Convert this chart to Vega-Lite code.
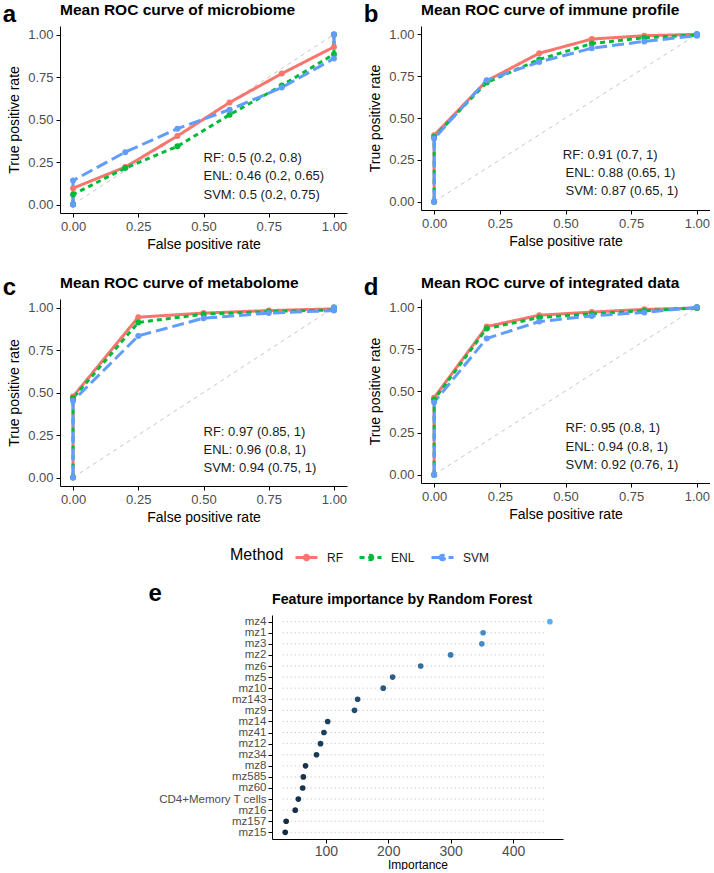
{
  "$schema": "https://vega.github.io/schema/vega-lite/v6.json",
  "padding": {"left": 2, "top": 2, "right": 0, "bottom": 0},
  "background": "white",
  "config": {
    "font": "Liberation Sans",
    "view": {"stroke": null},
    "axis": {"domainColor": "black", "domainWidth": 1, "tickColor": "black", "tickSize": 4, "labelColor": "#4D4D4D", "titleColor": "black", "titleFontWeight": "normal", "grid": false, "labelPadding": 3},
    "title": {"color": "black"},
    "legend": {"orient": "none", "legendX": 170, "legendY": 519, "direction": "horizontal", "titleOrient": "left", "titleFontSize": 16, "titleFontWeight": "normal", "titleColor": "black", "titlePadding": 10, "titleBaseline": "middle", "labelFontSize": 12, "labelColor": "#1A1A1A", "labelOffset": 8, "columnPadding": 10, "gridAlign": "none", "symbolSize": 484, "symbolStrokeWidth": 3}
  },
  "datasets": {
    "chance": [{"fpr": 0, "tpr": 0}, {"fpr": 1, "tpr": 1}],
    "auclabels": [
      {"panel": "a", "label": "RF: 0.5 (0.2, 0.8)", "fpr": 0.5, "tpr": 0.275}, {"panel": "a", "label": "ENL: 0.46 (0.2, 0.65)", "fpr": 0.5, "tpr": 0.165}, {"panel": "a", "label": "SVM: 0.5 (0.2, 0.75)", "fpr": 0.5, "tpr": 0.055},
      {"panel": "b", "label": "RF: 0.91 (0.7, 1)", "fpr": 0.49, "tpr": 0.278}, {"panel": "b", "label": "ENL: 0.88 (0.65, 1)", "fpr": 0.5, "tpr": 0.171}, {"panel": "b", "label": "SVM: 0.87 (0.65, 1)", "fpr": 0.5, "tpr": 0.064},
      {"panel": "c", "label": "RF: 0.97 (0.85, 1)", "fpr": 0.5, "tpr": 0.27}, {"panel": "c", "label": "ENL: 0.96 (0.8, 1)", "fpr": 0.5, "tpr": 0.162}, {"panel": "c", "label": "SVM: 0.94 (0.75, 1)", "fpr": 0.5, "tpr": 0.053},
      {"panel": "d", "label": "RF: 0.95 (0.8, 1)", "fpr": 0.5, "tpr": 0.278}, {"panel": "d", "label": "ENL: 0.94 (0.8, 1)", "fpr": 0.5, "tpr": 0.168}, {"panel": "d", "label": "SVM: 0.92 (0.76, 1)", "fpr": 0.5, "tpr": 0.058}
    ],
    "roc": [
      {"panel": "a", "method": "RF", "fpr": 0, "tpr": 0}, {"panel": "a", "method": "RF", "fpr": 0, "tpr": 0.096}, {"panel": "a", "method": "RF", "fpr": 0.2, "tpr": 0.22}, {"panel": "a", "method": "RF", "fpr": 0.4, "tpr": 0.403}, {"panel": "a", "method": "RF", "fpr": 0.6, "tpr": 0.6}, {"panel": "a", "method": "RF", "fpr": 0.8, "tpr": 0.77}, {"panel": "a", "method": "RF", "fpr": 1, "tpr": 0.927}, {"panel": "a", "method": "RF", "fpr": 1, "tpr": 1},
      {"panel": "a", "method": "ENL", "fpr": 0, "tpr": 0}, {"panel": "a", "method": "ENL", "fpr": 0, "tpr": 0.059}, {"panel": "a", "method": "ENL", "fpr": 0.2, "tpr": 0.214}, {"panel": "a", "method": "ENL", "fpr": 0.4, "tpr": 0.342}, {"panel": "a", "method": "ENL", "fpr": 0.6, "tpr": 0.528}, {"panel": "a", "method": "ENL", "fpr": 0.8, "tpr": 0.7}, {"panel": "a", "method": "ENL", "fpr": 1, "tpr": 0.884}, {"panel": "a", "method": "ENL", "fpr": 1, "tpr": 1},
      {"panel": "a", "method": "SVM", "fpr": 0, "tpr": 0}, {"panel": "a", "method": "SVM", "fpr": 0, "tpr": 0.141}, {"panel": "a", "method": "SVM", "fpr": 0.2, "tpr": 0.308}, {"panel": "a", "method": "SVM", "fpr": 0.4, "tpr": 0.446}, {"panel": "a", "method": "SVM", "fpr": 0.6, "tpr": 0.558}, {"panel": "a", "method": "SVM", "fpr": 0.8, "tpr": 0.688}, {"panel": "a", "method": "SVM", "fpr": 1, "tpr": 0.859}, {"panel": "a", "method": "SVM", "fpr": 1, "tpr": 1},
      {"panel": "b", "method": "RF", "fpr": 0, "tpr": 0}, {"panel": "b", "method": "RF", "fpr": 0, "tpr": 0.397}, {"panel": "b", "method": "RF", "fpr": 0.2, "tpr": 0.722}, {"panel": "b", "method": "RF", "fpr": 0.4, "tpr": 0.887}, {"panel": "b", "method": "RF", "fpr": 0.6, "tpr": 0.972}, {"panel": "b", "method": "RF", "fpr": 0.8, "tpr": 0.992}, {"panel": "b", "method": "RF", "fpr": 1, "tpr": 1},
      {"panel": "b", "method": "ENL", "fpr": 0, "tpr": 0}, {"panel": "b", "method": "ENL", "fpr": 0, "tpr": 0.387}, {"panel": "b", "method": "ENL", "fpr": 0.2, "tpr": 0.712}, {"panel": "b", "method": "ENL", "fpr": 0.4, "tpr": 0.85}, {"panel": "b", "method": "ENL", "fpr": 0.6, "tpr": 0.945}, {"panel": "b", "method": "ENL", "fpr": 0.8, "tpr": 0.98}, {"panel": "b", "method": "ENL", "fpr": 1, "tpr": 0.996}, {"panel": "b", "method": "ENL", "fpr": 1, "tpr": 1},
      {"panel": "b", "method": "SVM", "fpr": 0, "tpr": 0}, {"panel": "b", "method": "SVM", "fpr": 0, "tpr": 0.377}, {"panel": "b", "method": "SVM", "fpr": 0.2, "tpr": 0.726}, {"panel": "b", "method": "SVM", "fpr": 0.4, "tpr": 0.835}, {"panel": "b", "method": "SVM", "fpr": 0.6, "tpr": 0.917}, {"panel": "b", "method": "SVM", "fpr": 0.8, "tpr": 0.958}, {"panel": "b", "method": "SVM", "fpr": 1, "tpr": 0.992}, {"panel": "b", "method": "SVM", "fpr": 1, "tpr": 1},
      {"panel": "c", "method": "RF", "fpr": 0, "tpr": 0}, {"panel": "c", "method": "RF", "fpr": 0, "tpr": 0.476}, {"panel": "c", "method": "RF", "fpr": 0.25, "tpr": 0.943}, {"panel": "c", "method": "RF", "fpr": 0.5, "tpr": 0.967}, {"panel": "c", "method": "RF", "fpr": 0.75, "tpr": 0.982}, {"panel": "c", "method": "RF", "fpr": 1, "tpr": 0.992}, {"panel": "c", "method": "RF", "fpr": 1, "tpr": 1},
      {"panel": "c", "method": "ENL", "fpr": 0, "tpr": 0}, {"panel": "c", "method": "ENL", "fpr": 0, "tpr": 0.467}, {"panel": "c", "method": "ENL", "fpr": 0.25, "tpr": 0.912}, {"panel": "c", "method": "ENL", "fpr": 0.5, "tpr": 0.961}, {"panel": "c", "method": "ENL", "fpr": 0.75, "tpr": 0.976}, {"panel": "c", "method": "ENL", "fpr": 1, "tpr": 0.986}, {"panel": "c", "method": "ENL", "fpr": 1, "tpr": 1},
      {"panel": "c", "method": "SVM", "fpr": 0, "tpr": 0}, {"panel": "c", "method": "SVM", "fpr": 0, "tpr": 0.451}, {"panel": "c", "method": "SVM", "fpr": 0.25, "tpr": 0.833}, {"panel": "c", "method": "SVM", "fpr": 0.5, "tpr": 0.937}, {"panel": "c", "method": "SVM", "fpr": 0.75, "tpr": 0.967}, {"panel": "c", "method": "SVM", "fpr": 1, "tpr": 0.982}, {"panel": "c", "method": "SVM", "fpr": 1, "tpr": 1},
      {"panel": "d", "method": "RF", "fpr": 0, "tpr": 0}, {"panel": "d", "method": "RF", "fpr": 0, "tpr": 0.46}, {"panel": "d", "method": "RF", "fpr": 0.2, "tpr": 0.885}, {"panel": "d", "method": "RF", "fpr": 0.4, "tpr": 0.953}, {"panel": "d", "method": "RF", "fpr": 0.6, "tpr": 0.972}, {"panel": "d", "method": "RF", "fpr": 0.8, "tpr": 0.988}, {"panel": "d", "method": "RF", "fpr": 1, "tpr": 0.996}, {"panel": "d", "method": "RF", "fpr": 1, "tpr": 1},
      {"panel": "d", "method": "ENL", "fpr": 0, "tpr": 0}, {"panel": "d", "method": "ENL", "fpr": 0, "tpr": 0.449}, {"panel": "d", "method": "ENL", "fpr": 0.2, "tpr": 0.874}, {"panel": "d", "method": "ENL", "fpr": 0.4, "tpr": 0.939}, {"panel": "d", "method": "ENL", "fpr": 0.6, "tpr": 0.962}, {"panel": "d", "method": "ENL", "fpr": 0.8, "tpr": 0.98}, {"panel": "d", "method": "ENL", "fpr": 1, "tpr": 0.996}, {"panel": "d", "method": "ENL", "fpr": 1, "tpr": 1},
      {"panel": "d", "method": "SVM", "fpr": 0, "tpr": 0}, {"panel": "d", "method": "SVM", "fpr": 0, "tpr": 0.433}, {"panel": "d", "method": "SVM", "fpr": 0.2, "tpr": 0.814}, {"panel": "d", "method": "SVM", "fpr": 0.4, "tpr": 0.915}, {"panel": "d", "method": "SVM", "fpr": 0.6, "tpr": 0.949}, {"panel": "d", "method": "SVM", "fpr": 0.8, "tpr": 0.97}, {"panel": "d", "method": "SVM", "fpr": 1, "tpr": 1}
    ],
    "importance": [
      {"feature": "mz4", "importance": 459}, {"feature": "mz1", "importance": 352}, {"feature": "mz3", "importance": 350}, {"feature": "mz2", "importance": 300}, {"feature": "mz6", "importance": 252}, {"feature": "mz5", "importance": 207}, {"feature": "mz10", "importance": 192}, {"feature": "mz143", "importance": 151}, {"feature": "mz9", "importance": 146}, {"feature": "mz14", "importance": 103}, {"feature": "mz41", "importance": 97}, {"feature": "mz12", "importance": 91.5}, {"feature": "mz34", "importance": 85}, {"feature": "mz8", "importance": 67.5}, {"feature": "mz585", "importance": 64}, {"feature": "mz60", "importance": 63}, {"feature": "CD4+Memory T cells", "importance": 56}, {"feature": "mz16", "importance": 51}, {"feature": "mz157", "importance": 36.5}, {"feature": "mz15", "importance": 35}
    ]
  },
  "spacing": 57,
  "vconcat": [
    {
      "spacing": 24,
      "vconcat": [
        {
          "spacing": 16,
          "hconcat": [
            {
              "title": {"text": "a", "anchor": "start", "frame": "bounds", "fontSize": 24, "fontWeight": "bold", "offset": -43, "baseline": "alphabetic", "dx": -5},
              "vconcat": [{
                "width": 287, "height": 187,
                "title": {"text": "Mean ROC curve of microbiome", "anchor": "start", "frame": "group", "fontSize": 15.5, "fontWeight": "bold", "offset": 8},
                "encoding": {
                  "x": {"field": "fpr", "type": "quantitative", "scale": {"domain": [-0.05, 1.05], "nice": false, "zero": false}, "axis": {"title": "False positive rate", "values": [0, 0.25, 0.5, 0.75, 1], "format": ".2f", "labelFontSize": 13, "titleFontSize": 14, "titlePadding": 4}},
                  "y": {"field": "tpr", "type": "quantitative", "scale": {"domain": [-0.05, 1.05], "nice": false, "zero": false}, "axis": {"title": "True positive rate", "values": [0, 0.25, 0.5, 0.75, 1], "format": ".2f", "labelFontSize": 13, "titleFontSize": 14, "titlePadding": 6}}
                },
                "layer": [
                  {"data": {"name": "chance"}, "mark": {"type": "line", "color": "#C8C8C8", "strokeDash": [4, 4], "strokeWidth": 1}},
                  {"data": {"name": "roc"}, "transform": [{"filter": "datum.panel === 'a'"}], "mark": {"type": "line", "strokeWidth": 3}, "encoding": {"color": {"field": "method", "type": "nominal", "title": "Method", "scale": {"domain": ["RF", "ENL", "SVM"], "range": ["#F8766D", "#00BA38", "#619CFF"]}, "legend": {"title": "Method", "symbolType": "M-1,0L1,0M0.2,0A0.2,0.2,0,1,1,-0.2,0A0.2,0.2,0,1,1,0.2,0"}}, "strokeDash": {"field": "method", "type": "nominal", "title": "Method", "scale": {"domain": ["RF", "ENL", "SVM"], "range": [[1, 0], [5, 4], [12, 5]]}, "legend": {"title": "Method", "symbolType": "M-1,0L1,0M0.2,0A0.2,0.2,0,1,1,-0.2,0A0.2,0.2,0,1,1,0.2,0"}}, "order": [{"field": "fpr", "type": "quantitative"}, {"field": "tpr", "type": "quantitative"}]}},
                  {"data": {"name": "roc"}, "transform": [{"filter": "datum.panel === 'a'"}], "mark": {"type": "point", "filled": true, "size": 36, "opacity": 1}, "encoding": {"color": {"field": "method", "type": "nominal", "title": "Method", "scale": {"domain": ["RF", "ENL", "SVM"], "range": ["#F8766D", "#00BA38", "#619CFF"]}, "legend": {"title": "Method", "symbolType": "M-1,0L1,0M0.2,0A0.2,0.2,0,1,1,-0.2,0A0.2,0.2,0,1,1,0.2,0"}}}},
                  {"data": {"name": "auclabels"}, "transform": [{"filter": "datum.panel === 'a'"}], "mark": {"type": "text", "align": "left", "baseline": "middle", "fontSize": 13, "color": "#1A1A1A"}, "encoding": {"text": {"field": "label", "type": "nominal"}}}
                ]
              }]
            },
            {
              "title": {"text": "b", "anchor": "start", "frame": "bounds", "fontSize": 24, "fontWeight": "bold", "offset": -43, "baseline": "alphabetic", "dx": -5},
              "vconcat": [{
                "width": 289, "height": 184,
                "title": {"text": "Mean ROC curve of immune profile", "anchor": "start", "frame": "group", "fontSize": 15.5, "fontWeight": "bold", "offset": 8},
                "encoding": {
                  "x": {"field": "fpr", "type": "quantitative", "scale": {"domain": [-0.05, 1.05], "nice": false, "zero": false}, "axis": {"title": "False positive rate", "values": [0, 0.25, 0.5, 0.75, 1], "format": ".2f", "labelFontSize": 13, "titleFontSize": 14, "titlePadding": 4}},
                  "y": {"field": "tpr", "type": "quantitative", "scale": {"domain": [-0.05, 1.05], "nice": false, "zero": false}, "axis": {"title": "True positive rate", "values": [0, 0.25, 0.5, 0.75, 1], "format": ".2f", "labelFontSize": 13, "titleFontSize": 14, "titlePadding": 6}}
                },
                "layer": [
                  {"data": {"name": "chance"}, "mark": {"type": "line", "color": "#C8C8C8", "strokeDash": [4, 4], "strokeWidth": 1}},
                  {"data": {"name": "roc"}, "transform": [{"filter": "datum.panel === 'b'"}], "mark": {"type": "line", "strokeWidth": 3}, "encoding": {"color": {"field": "method", "type": "nominal", "title": "Method", "scale": {"domain": ["RF", "ENL", "SVM"], "range": ["#F8766D", "#00BA38", "#619CFF"]}, "legend": {"title": "Method", "symbolType": "M-1,0L1,0M0.2,0A0.2,0.2,0,1,1,-0.2,0A0.2,0.2,0,1,1,0.2,0"}}, "strokeDash": {"field": "method", "type": "nominal", "title": "Method", "scale": {"domain": ["RF", "ENL", "SVM"], "range": [[1, 0], [5, 4], [12, 5]]}, "legend": {"title": "Method", "symbolType": "M-1,0L1,0M0.2,0A0.2,0.2,0,1,1,-0.2,0A0.2,0.2,0,1,1,0.2,0"}}, "order": [{"field": "fpr", "type": "quantitative"}, {"field": "tpr", "type": "quantitative"}]}},
                  {"data": {"name": "roc"}, "transform": [{"filter": "datum.panel === 'b'"}], "mark": {"type": "point", "filled": true, "size": 36, "opacity": 1}, "encoding": {"color": {"field": "method", "type": "nominal", "title": "Method", "scale": {"domain": ["RF", "ENL", "SVM"], "range": ["#F8766D", "#00BA38", "#619CFF"]}, "legend": {"title": "Method", "symbolType": "M-1,0L1,0M0.2,0A0.2,0.2,0,1,1,-0.2,0A0.2,0.2,0,1,1,0.2,0"}}}},
                  {"data": {"name": "auclabels"}, "transform": [{"filter": "datum.panel === 'b'"}], "mark": {"type": "text", "align": "left", "baseline": "middle", "fontSize": 13, "color": "#1A1A1A"}, "encoding": {"text": {"field": "label", "type": "nominal"}}}
                ]
              }]
            }
          ]
        },
        {
          "spacing": 16,
          "hconcat": [
            {
              "title": {"text": "c", "anchor": "start", "frame": "bounds", "fontSize": 24, "fontWeight": "bold", "offset": -43, "baseline": "alphabetic", "dx": -5},
              "vconcat": [{
                "width": 287, "height": 187,
                "title": {"text": "Mean ROC curve of metabolome", "anchor": "start", "frame": "group", "fontSize": 15.5, "fontWeight": "bold", "offset": 8},
                "encoding": {
                  "x": {"field": "fpr", "type": "quantitative", "scale": {"domain": [-0.05, 1.05], "nice": false, "zero": false}, "axis": {"title": "False positive rate", "values": [0, 0.25, 0.5, 0.75, 1], "format": ".2f", "labelFontSize": 13, "titleFontSize": 14, "titlePadding": 4}},
                  "y": {"field": "tpr", "type": "quantitative", "scale": {"domain": [-0.05, 1.05], "nice": false, "zero": false}, "axis": {"title": "True positive rate", "values": [0, 0.25, 0.5, 0.75, 1], "format": ".2f", "labelFontSize": 13, "titleFontSize": 14, "titlePadding": 6}}
                },
                "layer": [
                  {"data": {"name": "chance"}, "mark": {"type": "line", "color": "#C8C8C8", "strokeDash": [4, 4], "strokeWidth": 1}},
                  {"data": {"name": "roc"}, "transform": [{"filter": "datum.panel === 'c'"}], "mark": {"type": "line", "strokeWidth": 3}, "encoding": {"color": {"field": "method", "type": "nominal", "title": "Method", "scale": {"domain": ["RF", "ENL", "SVM"], "range": ["#F8766D", "#00BA38", "#619CFF"]}, "legend": {"title": "Method", "symbolType": "M-1,0L1,0M0.2,0A0.2,0.2,0,1,1,-0.2,0A0.2,0.2,0,1,1,0.2,0"}}, "strokeDash": {"field": "method", "type": "nominal", "title": "Method", "scale": {"domain": ["RF", "ENL", "SVM"], "range": [[1, 0], [5, 4], [12, 5]]}, "legend": {"title": "Method", "symbolType": "M-1,0L1,0M0.2,0A0.2,0.2,0,1,1,-0.2,0A0.2,0.2,0,1,1,0.2,0"}}, "order": [{"field": "fpr", "type": "quantitative"}, {"field": "tpr", "type": "quantitative"}]}},
                  {"data": {"name": "roc"}, "transform": [{"filter": "datum.panel === 'c'"}], "mark": {"type": "point", "filled": true, "size": 36, "opacity": 1}, "encoding": {"color": {"field": "method", "type": "nominal", "title": "Method", "scale": {"domain": ["RF", "ENL", "SVM"], "range": ["#F8766D", "#00BA38", "#619CFF"]}, "legend": {"title": "Method", "symbolType": "M-1,0L1,0M0.2,0A0.2,0.2,0,1,1,-0.2,0A0.2,0.2,0,1,1,0.2,0"}}}},
                  {"data": {"name": "auclabels"}, "transform": [{"filter": "datum.panel === 'c'"}], "mark": {"type": "text", "align": "left", "baseline": "middle", "fontSize": 13, "color": "#1A1A1A"}, "encoding": {"text": {"field": "label", "type": "nominal"}}}
                ]
              }]
            },
            {
              "title": {"text": "d", "anchor": "start", "frame": "bounds", "fontSize": 24, "fontWeight": "bold", "offset": -43, "baseline": "alphabetic", "dx": -5},
              "vconcat": [{
                "width": 289, "height": 184,
                "title": {"text": "Mean ROC curve of integrated data", "anchor": "start", "frame": "group", "fontSize": 15.5, "fontWeight": "bold", "offset": 8},
                "encoding": {
                  "x": {"field": "fpr", "type": "quantitative", "scale": {"domain": [-0.05, 1.05], "nice": false, "zero": false}, "axis": {"title": "False positive rate", "values": [0, 0.25, 0.5, 0.75, 1], "format": ".2f", "labelFontSize": 13, "titleFontSize": 14, "titlePadding": 4}},
                  "y": {"field": "tpr", "type": "quantitative", "scale": {"domain": [-0.05, 1.05], "nice": false, "zero": false}, "axis": {"title": "True positive rate", "values": [0, 0.25, 0.5, 0.75, 1], "format": ".2f", "labelFontSize": 13, "titleFontSize": 14, "titlePadding": 6}}
                },
                "layer": [
                  {"data": {"name": "chance"}, "mark": {"type": "line", "color": "#C8C8C8", "strokeDash": [4, 4], "strokeWidth": 1}},
                  {"data": {"name": "roc"}, "transform": [{"filter": "datum.panel === 'd'"}], "mark": {"type": "line", "strokeWidth": 3}, "encoding": {"color": {"field": "method", "type": "nominal", "title": "Method", "scale": {"domain": ["RF", "ENL", "SVM"], "range": ["#F8766D", "#00BA38", "#619CFF"]}, "legend": {"title": "Method", "symbolType": "M-1,0L1,0M0.2,0A0.2,0.2,0,1,1,-0.2,0A0.2,0.2,0,1,1,0.2,0"}}, "strokeDash": {"field": "method", "type": "nominal", "title": "Method", "scale": {"domain": ["RF", "ENL", "SVM"], "range": [[1, 0], [5, 4], [12, 5]]}, "legend": {"title": "Method", "symbolType": "M-1,0L1,0M0.2,0A0.2,0.2,0,1,1,-0.2,0A0.2,0.2,0,1,1,0.2,0"}}, "order": [{"field": "fpr", "type": "quantitative"}, {"field": "tpr", "type": "quantitative"}]}},
                  {"data": {"name": "roc"}, "transform": [{"filter": "datum.panel === 'd'"}], "mark": {"type": "point", "filled": true, "size": 36, "opacity": 1}, "encoding": {"color": {"field": "method", "type": "nominal", "title": "Method", "scale": {"domain": ["RF", "ENL", "SVM"], "range": ["#F8766D", "#00BA38", "#619CFF"]}, "legend": {"title": "Method", "symbolType": "M-1,0L1,0M0.2,0A0.2,0.2,0,1,1,-0.2,0A0.2,0.2,0,1,1,0.2,0"}}}},
                  {"data": {"name": "auclabels"}, "transform": [{"filter": "datum.panel === 'd'"}], "mark": {"type": "text", "align": "left", "baseline": "middle", "fontSize": 13, "color": "#1A1A1A"}, "encoding": {"text": {"field": "label", "type": "nominal"}}}
                ]
              }]
            }
          ]
        }
      ]
    },
    {
      "spacing": 0,
      "hconcat": [
        {
          "width": 87, "height": 1,
          "view": {"fill": "white", "stroke": null},
          "data": {"name": "chance"},
          "mark": {"type": "rule", "color": "white", "strokeWidth": 0.5},
          "encoding": {
            "x": {"aggregate": "min", "field": "fpr", "type": "quantitative", "axis": null, "scale": {"domain": [0, 1], "nice": false, "zero": false}},
            "x2": {"aggregate": "max", "field": "fpr"}
          }
        },
        {
          "width": 291, "height": 224,
          "title": {"text": "Feature importance by Random Forest", "anchor": "start", "frame": "group", "fontSize": 14.2, "fontWeight": "bold", "offset": -26},
          "data": {"name": "importance"},
          "encoding": {
            "y": {"field": "feature", "type": "nominal", "sort": ["mz4", "mz1", "mz3", "mz2", "mz6", "mz5", "mz10", "mz143", "mz9", "mz14", "mz41", "mz12", "mz34", "mz8", "mz585", "mz60", "CD4+Memory T cells", "mz16", "mz157", "mz15"], "scale": {"type": "point", "padding": 0.6}, "axis": {"title": "e", "titleAngle": 0, "titleFontSize": 24, "titleFontWeight": "bold", "titleColor": "black", "titleAlign": "left", "titleBaseline": "alphabetic", "titleX": -124, "titleY": -15, "labelFontSize": 11.5, "labelPadding": 2}},
            "x": {"field": "importance", "type": "quantitative", "scale": {"domain": [13.8, 480], "nice": false, "zero": false}, "axis": {"values": [100, 200, 300, 400], "title": "Importance", "labelFontSize": 14, "labelPadding": 1, "titleFontSize": 12, "titlePadding": 1}}
          },
          "layer": [
            {"mark": {"type": "rule", "color": "#BDBDBD", "strokeDash": [1, 3], "strokeWidth": 1}, "encoding": {"x": {"datum": 31}, "x2": {"datum": 454}}},
            {"mark": {"type": "point", "filled": true, "size": 32, "opacity": 1}, "encoding": {"fill": {"field": "importance", "type": "quantitative", "scale": {"domain": [35, 459], "range": ["#132B43", "#56B1F7"], "interpolate": "lab"}, "legend": null}}}
          ]
        }
      ]
    }
  ]
}
